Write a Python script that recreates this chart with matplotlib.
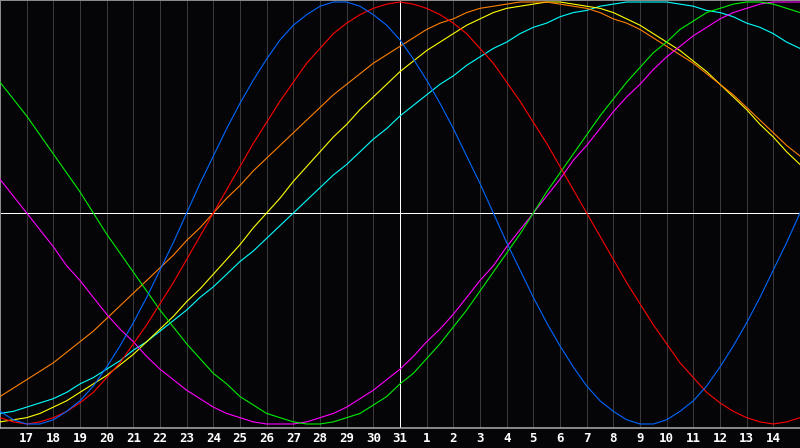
import numpy as np
import matplotlib
matplotlib.use('Agg')
import matplotlib.pyplot as plt

# day labels shown under the grid (one per vertical line)
days = [17, 18, 19, 20, 21, 22, 23, 24, 25, 26, 27, 28, 29, 30, 31,
        1, 2, 3, 4, 5, 6, 7, 8, 9, 10, 11, 12, 13, 14]

# values every half day, index 0 = left edge, 60 = right edge
physical = [-0.94, -0.98, -1.00, -1.00, -0.98, -0.94, -0.89, -0.82, -0.73, -0.63, -0.52,
            -0.40, -0.27, -0.14, 0.00, 0.14, 0.27, 0.40, 0.52, 0.63, 0.73, 0.82,
            0.89, 0.94, 0.98, 1.00, 1.00, 0.98, 0.94, 0.89, 0.82, 0.73, 0.63,
            0.52, 0.40, 0.27, 0.14, 0.00, -0.14, -0.27, -0.40, -0.52, -0.63, -0.73,
            -0.82, -0.89, -0.94, -0.98, -1.00, -1.00, -0.98, -0.94, -0.89, -0.82, -0.73,
            -0.63, -0.52, -0.40, -0.27, -0.14, 0.00]
emotional = [-0.97, -0.99, -1.00, -0.99, -0.97, -0.94, -0.90, -0.85, -0.78, -0.71, -0.62,
             -0.53, -0.43, -0.33, -0.22, -0.11, 0.00, 0.11, 0.22, 0.33, 0.43, 0.53,
             0.62, 0.71, 0.78, 0.85, 0.90, 0.94, 0.97, 0.99, 1.00, 0.99, 0.97,
             0.94, 0.90, 0.85, 0.78, 0.71, 0.62, 0.53, 0.43, 0.33, 0.22, 0.11,
             0.00, -0.11, -0.22, -0.33, -0.43, -0.53, -0.62, -0.71, -0.78, -0.85, -0.90,
             -0.94, -0.97, -0.99, -1.00, -0.99, -0.97]
intellectual = [0.62, 0.54, 0.46, 0.37, 0.28, 0.19, 0.10, 0.00, -0.10, -0.19, -0.28,
                -0.37, -0.46, -0.54, -0.62, -0.69, -0.76, -0.81, -0.87, -0.91, -0.95, -0.97,
                -0.99, -1.00, -1.00, -0.99, -0.97, -0.95, -0.91, -0.87, -0.81, -0.76, -0.69,
                -0.62, -0.54, -0.46, -0.37, -0.28, -0.19, -0.10, 0.00, 0.10, 0.19, 0.28,
                0.37, 0.46, 0.54, 0.62, 0.69, 0.76, 0.81, 0.87, 0.91, 0.95, 0.97,
                0.99, 1.00, 1.00, 0.99, 0.97, 0.95]
intuitive = [0.16, 0.08, 0.00, -0.08, -0.16, -0.25, -0.32, -0.40, -0.48, -0.55, -0.61,
             -0.68, -0.74, -0.79, -0.84, -0.88, -0.92, -0.95, -0.97, -0.99, -1.00, -1.00,
             -1.00, -0.99, -0.97, -0.95, -0.92, -0.88, -0.84, -0.79, -0.74, -0.68, -0.61,
             -0.55, -0.48, -0.40, -0.32, -0.25, -0.16, -0.08, 0.00, 0.08, 0.16, 0.25,
             0.32, 0.40, 0.48, 0.55, 0.61, 0.68, 0.74, 0.79, 0.84, 0.88, 0.92,
             0.95, 0.97, 0.99, 1.00, 1.00, 1.00]
aesthetic = [-0.99, -0.98, -0.97, -0.95, -0.92, -0.89, -0.85, -0.81, -0.77, -0.72, -0.67,
             -0.61, -0.55, -0.49, -0.42, -0.36, -0.29, -0.22, -0.15, -0.07, 0.00, 0.07,
             0.15, 0.22, 0.29, 0.36, 0.42, 0.49, 0.55, 0.61, 0.67, 0.72, 0.77,
             0.81, 0.85, 0.89, 0.92, 0.95, 0.97, 0.98, 0.99, 1.00, 1.00, 0.99,
             0.98, 0.97, 0.95, 0.92, 0.89, 0.85, 0.81, 0.77, 0.72, 0.67, 0.61,
             0.55, 0.49, 0.42, 0.36, 0.29, 0.23]
awareness = [-0.87, -0.83, -0.79, -0.75, -0.71, -0.66, -0.61, -0.56, -0.50, -0.44, -0.38,
             -0.32, -0.26, -0.20, -0.13, -0.07, 0.00, 0.07, 0.13, 0.20, 0.26, 0.32,
             0.38, 0.44, 0.50, 0.56, 0.61, 0.66, 0.71, 0.75, 0.79, 0.83, 0.87,
             0.90, 0.92, 0.95, 0.97, 0.98, 0.99, 1.00, 1.00, 1.00, 0.99, 0.98,
             0.97, 0.95, 0.92, 0.90, 0.87, 0.83, 0.79, 0.75, 0.71, 0.66, 0.61,
             0.56, 0.50, 0.44, 0.38, 0.32, 0.27]
spiritual = [-0.95, -0.94, -0.92, -0.90, -0.88, -0.85, -0.81, -0.78, -0.74, -0.70, -0.65,
             -0.61, -0.56, -0.51, -0.46, -0.40, -0.35, -0.29, -0.23, -0.18, -0.12, -0.06,
             0.00, 0.06, 0.12, 0.18, 0.23, 0.29, 0.35, 0.40, 0.46, 0.51, 0.56,
             0.61, 0.65, 0.70, 0.74, 0.78, 0.81, 0.85, 0.88, 0.90, 0.93, 0.95,
             0.96, 0.98, 0.99, 1.00, 1.00, 1.00, 1.00, 0.99, 0.98, 0.96, 0.95,
             0.93, 0.90, 0.88, 0.85, 0.81, 0.78]

bg = '#050508'
px = 0.72  # one pixel in points at 100 dpi

fig = plt.figure(figsize=(8, 4.48), dpi=100, facecolor=bg)
ax = fig.add_axes([0, 1 - 428 / 448, 1, 428 / 448], facecolor=bg)

x = np.arange(len(physical)) / 2
ndays = len(days) + 1

# grid: one thin line per day, white line for today and for zero
for k in range(1, ndays):
    if k == 15:
        continue
    ax.axvline(k, color='#3a3a3a', lw=px, zorder=1)
ax.axvline(15, color='white', lw=px, zorder=2)
ax.axhline(0, color='white', lw=px, zorder=2)

series = [
    (spiritual, '#00ffff'),
    (aesthetic, '#ffff00'),
    (awareness, '#ff8000'),
    (intuitive, '#ff00ff'),
    (intellectual, '#00ee00'),
    (emotional, '#ff0000'),
    (physical, '#0066ff'),
]
for vals, col in series:
    ax.plot(x, vals, color=col, lw=0.8, zorder=3)

ax.set_xlim(0, ndays)
ax.set_ylim(-1.019, 1.0095)

ax.set_xticks(range(1, ndays))
ax.set_xticklabels([str(d) for d in days], color='white',
                   fontfamily='DejaVu Sans Mono', fontweight='bold', fontsize=9)
ax.tick_params(axis='x', length=0, pad=3)
ax.set_yticks([])

for s in ['left', 'top', 'right']:
    ax.spines[s].set_color('#8a8a8a')
    ax.spines[s].set_linewidth(px)
ax.spines['bottom'].set_color('#b0b0b0')
ax.spines['bottom'].set_linewidth(px * 1.5)

fig.savefig('out.png', dpi=100, facecolor=bg)
